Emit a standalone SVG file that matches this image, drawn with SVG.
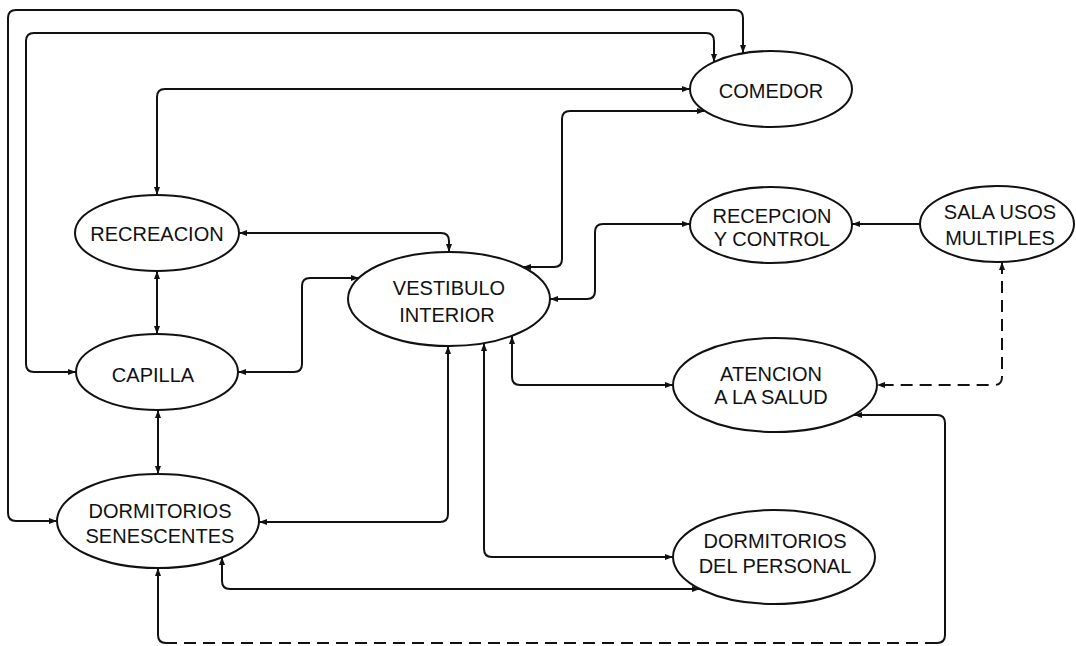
<svg xmlns="http://www.w3.org/2000/svg" width="1076" height="646" viewBox="0 0 1076 646">
<style>
.node ellipse{fill:#ffffff;stroke:#111;stroke-width:2}
.node text{font-family:"Liberation Sans",Arial,sans-serif;font-size:20px;fill:#111;text-anchor:middle}
.c{fill:none;stroke:#111;stroke-width:2}
.d{stroke-dasharray:12 7}
.b{marker-start:url(#arr);marker-end:url(#arr)}
.e{marker-end:url(#arr)}
.s{marker-start:url(#arr)}
</style>
<defs>
<marker id="arr" viewBox="0 0 8 6" refX="8" refY="3" markerWidth="8" markerHeight="6" markerUnits="userSpaceOnUse" orient="auto-start-reverse">
<path d="M0,0 L8,3 L0,6 z" fill="#111"/>
</marker>
</defs>
<rect width="1076" height="646" fill="#ffffff"/>
<g id="connectors">
<path class="c b" d="M57 521 H16 Q8 521 8 513 V18 Q8 10 16 10 H735 Q743 10 743 18 V53"/>
<path class="c b" d="M76 372 H34 Q26 372 26 364 V41 Q26 33 34 33 H706 Q714 33 714 41 V62"/>
<path class="c b" d="M157 195 V97 Q157 89 165 89 H690"/>
<path class="c b" d="M523 267 H554 Q562 267 562 259 V119 Q562 111 570 111 H705"/>
<path class="c b" d="M239 233 H441 Q449 233 449 241 V252"/>
<path class="c b" d="M157 271 V334"/>
<path class="c b" d="M238 372 H294 Q302 372 302 364 V286 Q302 278 310 278 H359"/>
<path class="c b" d="M158 410 V474"/>
<path class="c b" d="M259 522 H440 Q448 522 448 514 V346"/>
<path class="c b" d="M222 557 V581 Q222 589 230 589 H700"/>
<path class="c b" d="M484 343 V549 Q484 557 492 557 H673"/>
<path class="c b" d="M512 336 V377 Q512 385 520 385 H673"/>
<path class="c b" d="M550 299 H587 Q595 299 595 291 V232 Q595 224 603 224 H690"/>
<path class="c e" d="M920 224 H852"/>
<path class="c d b" d="M1002 262 V377 Q1002 385 994 385 H877"/>
<path class="c s" d="M854 415 H937 Q945 415 945 423 V635 Q945 643 937 643"/>
<path class="c d" d="M937 643 H166"/>
<path class="c e" d="M166 643 Q158 643 158 635 V568"/>
</g>
<g id="comedor" class="node"><ellipse cx="771" cy="89" rx="81" ry="38"/><text x="771" y="98">COMEDOR</text></g>
<g id="recreacion" class="node"><ellipse cx="157" cy="233" rx="82" ry="38"/><text x="157" y="241">RECREACION</text></g>
<g id="capilla" class="node"><ellipse cx="157" cy="372" rx="81" ry="38"/><text x="153" y="382">CAPILLA</text></g>
<g id="dormitorios-senescentes" class="node"><ellipse cx="158" cy="521" rx="101" ry="47"/><text x="160" y="518">DORMITORIOS</text><text x="160" y="543">SENESCENTES</text></g>
<g id="vestibulo-interior" class="node"><ellipse cx="449" cy="299" rx="101" ry="47"/><text x="449" y="295">VESTIBULO</text><text x="447" y="322">INTERIOR</text></g>
<g id="recepcion-control" class="node"><ellipse cx="771" cy="225" rx="81" ry="38"/><text x="772" y="223">RECEPCION</text><text x="772" y="246">Y CONTROL</text></g>
<g id="sala-usos-multiples" class="node"><ellipse cx="997" cy="224" rx="77" ry="38"/><text x="1000" y="219">SALA USOS</text><text x="1000" y="245">MULTIPLES</text></g>
<g id="atencion-salud" class="node"><ellipse cx="775" cy="385" rx="102" ry="47"/><text x="771" y="381">ATENCION</text><text x="771" y="404">A LA SALUD</text></g>
<g id="dormitorios-personal" class="node"><ellipse cx="774" cy="557" rx="101" ry="47"/><text x="775" y="548">DORMITORIOS</text><text x="775" y="573">DEL PERSONAL</text></g>
</svg>
